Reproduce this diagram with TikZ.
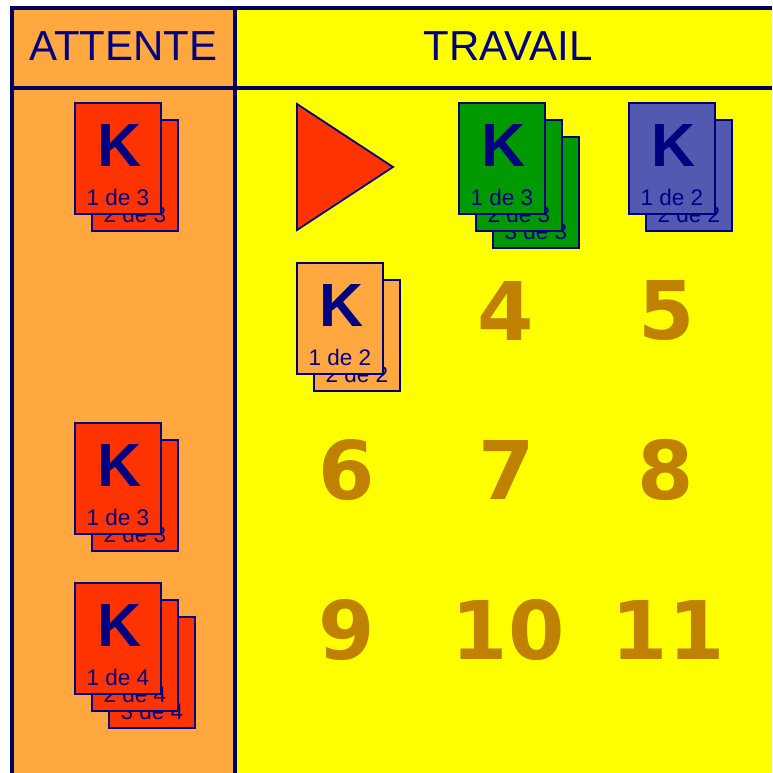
\documentclass[tikz,border=0pt]{standalone}
\usepackage{fontspec}
\setmainfont{Liberation Sans}
\newfontfamily\numfont{DejaVu Sans}
\definecolor{navy}{RGB}{0,0,128}
\definecolor{frameline}{RGB}{0,0,96}
\definecolor{attente}{RGB}{255,168,64}
\definecolor{travail}{RGB}{255,255,0}
\definecolor{redcard}{RGB}{255,51,0}
\definecolor{greencard}{RGB}{0,153,0}
\definecolor{bluecard}{RGB}{83,89,176}
\definecolor{numcol}{RGB}{192,128,0}
\tikzset{
  cardbox/.style={draw=navy, line width=1.8pt, fill=#1, minimum width=86pt, minimum height=111pt, anchor=north west, inner sep=0pt, outer sep=0pt},
  klabel/.style={font=\bfseries\fontsize{61}{61}\selectfont, text=navy, anchor=base, inner sep=0pt},
  cardtext/.style={font=\fontsize{22.5}{22.5}\selectfont, text=navy, anchor=base, inner sep=0pt},
  bignum/.style={font=\numfont\bfseries\fontsize{81}{81}\selectfont, text=numcol, inner sep=0pt},
  header/.style={font=\fontsize{42}{42}\selectfont, text=navy, anchor=base, inner sep=0pt},
  framestroke/.style={draw=frameline, line width=4pt},
}
% card without K: name, x, y, colour, text
\newcommand\plaincard[5]{%
  \node[cardbox=#4] (#1) at (#2,#3) {};
  \node[cardtext] (#1t) at ({#2+43},{#3+102}) {#5};
}
% card with K on top
\newcommand\topcard[5]{%
  \plaincard{#1}{#2}{#3}{#4}{#5}
  \node[klabel] (#1k) at ({#2+45},{#3+63}) {K};
}
\begin{document}
\begin{tikzpicture}[x=1pt,y=-1pt]
\useasboundingbox (0,0) rectangle (772,773);
% backgrounds
\fill[attente] (12,8) rectangle (235,773);
\fill[travail] (235,8) rectangle (772,773);
% frame lines
\draw[framestroke] (12,773) -- (12,8) -- (772,8);
\draw[framestroke] (235,8) -- (235,773);
\draw[framestroke] (12,88) -- (772,88);
% headers
\node[header] (hatt) at (123.5,61) {ATTENTE};
\node[header] (htrav) at (508,61) {TRAVAIL};
% row 1, waiting column
\plaincard{wa2}{92}{120}{redcard}{2 de 3}
\topcard{wa1}{75}{103}{redcard}{1 de 3}
% play triangle
\draw[draw=navy, line width=1.8pt, fill=redcard, line join=miter] (297,104) -- (393,167) -- (297,230) -- cycle;
% green stack
\plaincard{ga3}{493}{137}{greencard}{3 de 3}
\plaincard{ga2}{476}{120}{greencard}{2 de 3}
\topcard{ga1}{459}{103}{greencard}{1 de 3}
% blue stack
\plaincard{ba2}{646}{120}{bluecard}{2 de 2}
\topcard{ba1}{629}{103}{bluecard}{1 de 2}
% row 2 orange stack
\plaincard{oa2}{314}{280}{attente}{2 de 2}
\topcard{oa1}{297}{263}{attente}{1 de 2}
\node[bignum] (n4) at (506,311) {4};
\node[bignum] (n5) at (667,311) {5};
% row 3
\plaincard{wb2}{92}{440}{redcard}{2 de 3}
\topcard{wb1}{75}{423}{redcard}{1 de 3}
\node[bignum] (n6) at (347,470) {6};
\node[bignum] (n7) at (507,470) {7};
\node[bignum] (n8) at (666,470) {8};
% row 4
\plaincard{wc3}{109}{617}{redcard}{3 de 4}
\plaincard{wc2}{92}{600}{redcard}{2 de 4}
\topcard{wc1}{75}{583}{redcard}{1 de 4}
\node[bignum] (n9) at (347,630) {9};
\node[bignum] (n10) at (508,630) {10};
\node[bignum] (n11) at (668,630) {11};
\end{tikzpicture}
\end{document}
